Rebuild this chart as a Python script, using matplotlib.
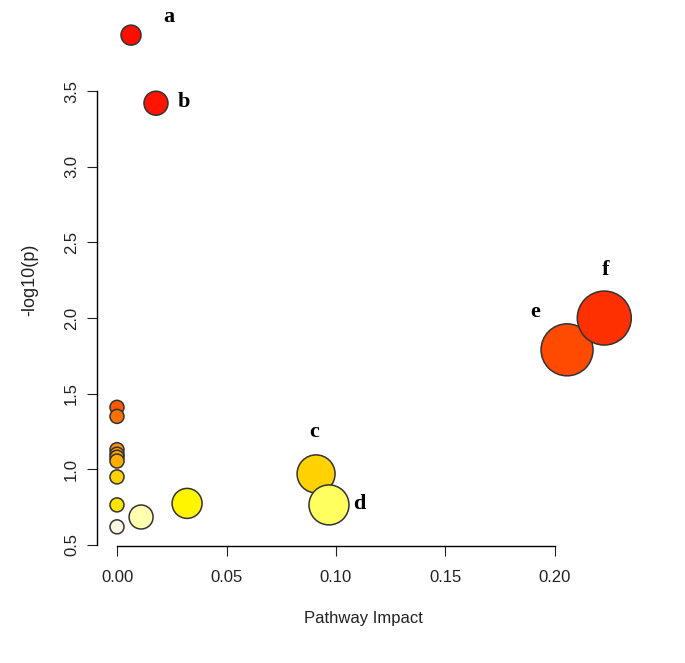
#!/usr/bin/env python3
# Pathway impact bubble plot (R / MetaboAnalyst style)
import numpy as np
import matplotlib.pyplot as plt

# pathway impact (x) and -log10(p) (y) for every pathway bubble
impact = [0.0064, 0.0178, 0.2055, 0.2225, 0.0, 0.0, 0.0, 0.0, 0.0, 0.0, 0.0, 0.0, 0.0,
          0.011, 0.032, 0.0909, 0.0968]
neglogp = [3.87, 3.42, 1.79, 2.00, 1.41, 1.35, 1.13, 1.10, 1.08, 1.055, 0.95, 0.765, 0.62,
           0.685, 0.775, 0.97, 0.765]
# bubble radius in pixels (R scales them with impact)
radius_px = [10, 12, 26, 27, 7, 7, 7, 7, 7, 7, 7, 7, 7, 12, 15, 19, 20]
colors = ['#FF0E00', '#FF1400', '#FF4A00', '#FF3000', '#FF5A00', '#FF7000', '#FF9200',
          '#FF9C00', '#FFA400', '#FFAE00', '#FFD200', '#FFE600', '#FFF8E0',
          '#FFFFB0', '#FFF500', '#FFD200', '#FFFF60']

# letter annotations
labels = ['a', 'b', 'c', 'd', 'e', 'f']
label_x = [0.0237, 0.0306, 0.0900, 0.1105, 0.1909, 0.2233]
label_y = [3.99, 3.43, 1.25, 0.77, 2.04, 2.32]

x_ticks = [0.00, 0.05, 0.10, 0.15, 0.20]
y_ticks = [0.5, 1.0, 1.5, 2.0, 2.5, 3.0, 3.5]

W, H = 685, 663
fig = plt.figure(figsize=(W / 100, H / 100), dpi=100)
# plot region in pixels: left 97, right 623, top 15, bottom 546
ax = fig.add_axes([97 / W, 1 - 546 / H, (623 - 97) / W, (546 - 15) / H])

px_per_x = 2190.0   # pixels per unit of impact
px_per_y = 151.3    # pixels per unit of -log10(p)
ax.set_xlim(-20 / px_per_x, 506 / px_per_x)
ax.set_ylim(0.5 - 1 / px_per_y, 0.5 + 530 / px_per_y)

sizes = [(2 * r * 0.72) ** 2 for r in radius_px]
ax.scatter(impact, neglogp, s=sizes, c=colors, edgecolors='#333333',
           linewidths=1.1, clip_on=False, zorder=3)

for lab, lx, ly in zip(labels, label_x, label_y):
    ax.text(lx, ly, lab, fontsize=16, fontweight='bold', family='Liberation Serif',
            ha='center', va='center')

for side in ['top', 'right']:
    ax.spines[side].set_visible(False)
ax.spines['left'].set_bounds(0.5, 3.5)
ax.spines['bottom'].set_bounds(0.0, 0.2)
ax.spines['left'].set_linewidth(1.0)
ax.spines['bottom'].set_linewidth(1.0)

ax.set_xticks(x_ticks)
ax.set_xticklabels(['%.2f' % v for v in x_ticks])
ax.set_yticks(y_ticks)
ax.set_yticklabels(['%.1f' % v for v in y_ticks], rotation=90, va='center')
ax.tick_params(axis='x', length=7, pad=10, labelsize=12, colors='#222222')
ax.tick_params(axis='y', length=7, pad=6, labelsize=12, colors='#222222')
for t in ax.get_xticklabels() + ax.get_yticklabels():
    t.set_family('Liberation Sans')

fig.text(363 / W, 1 - 618 / H, 'Pathway Impact', ha='center', va='center',
         fontsize=12, family='Liberation Sans', color='#222222')
fig.text(30 / W, 1 - 280 / H, '-log10(p)', ha='center', va='center', rotation=90,
         fontsize=13, family='Liberation Sans', color='#222222')

fig.savefig('out.png', dpi=100)
